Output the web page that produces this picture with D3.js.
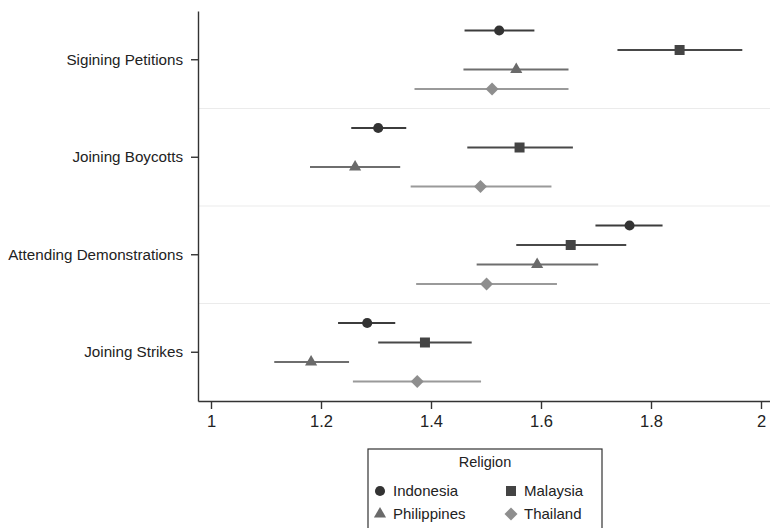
<!DOCTYPE html>
<html>
<head>
<meta charset="utf-8">
<script src="https://cdn.jsdelivr.net/npm/d3@7"></script>
<style>
  body { margin: 0; background: #fff; }
  text { font-family: "Liberation Sans", Arial, Helvetica, sans-serif; fill: #222; }
</style>
</head>
<body>
<div id="chart"></div>
<script>
// data
const categories = ["Sigining Petitions", "Joining Boycotts", "Attending Demonstrations", "Joining Strikes"];
const countries = ["Indonesia", "Malaysia", "Philippines", "Thailand"];
const xTicks = [1, 1.2, 1.4, 1.6, 1.8, 2];

// point estimates and interval ends, one value per category
const indonesiaMean = [1.524, 1.304, 1.761, 1.284];
const indonesiaLow  = [1.461, 1.255, 1.699, 1.231];
const indonesiaHigh = [1.588, 1.355, 1.821, 1.335];

const malaysiaMean = [1.852, 1.561, 1.654, 1.389];
const malaysiaLow  = [1.739, 1.466, 1.555, 1.304];
const malaysiaHigh = [1.966, 1.658, 1.755, 1.474];

const philippinesMean = [1.555, 1.262, 1.593, 1.182];
const philippinesLow  = [1.459, 1.180, 1.483, 1.115];
const philippinesHigh = [1.650, 1.344, 1.704, 1.251];

const thailandMean = [1.511, 1.490, 1.501, 1.375];
const thailandLow  = [1.370, 1.363, 1.373, 1.258];
const thailandHigh = [1.650, 1.619, 1.629, 1.491];

const series = [
  {name: "Indonesia",   mean: indonesiaMean,   low: indonesiaLow,   high: indonesiaHigh},
  {name: "Malaysia",    mean: malaysiaMean,    low: malaysiaLow,    high: malaysiaHigh},
  {name: "Philippines", mean: philippinesMean, low: philippinesLow, high: philippinesHigh},
  {name: "Thailand",    mean: thailandMean,    low: thailandLow,    high: thailandHigh}
];

/* look of each country */
const markerFill = {Indonesia: "#333", Malaysia: "#444", Philippines: "#6a6a6a", Thailand: "#8e8e8e"};
const lineColor = {Indonesia: "#3c3c3c", Malaysia: "#484848", Philippines: "#6e6e6e", Thailand: "#9a9a9a"};
const markerType = {
  Indonesia: d3.symbol(d3.symbolCircle, 80),
  Malaysia: d3.symbol(d3.symbolSquare, 100),
  Philippines: d3.symbol(d3.symbolTriangle, 64),
  Thailand: d3.symbol(d3.symbolSquare, 84)
};
const markerRotate = {Indonesia: 0, Malaysia: 0, Philippines: 0, Thailand: 45};

// dimensions
const W = 770, H = 528;
const margin = {top: 11, right: 0, bottom: 127, left: 198};
const width = W - margin.left - margin.right;
const height = H - margin.top - margin.bottom;

const svg = d3.select("#chart").append("svg")
  .attr("width", W)
  .attr("height", H);

const g = svg.append("g")
  .attr("transform", `translate(${margin.left},${margin.top})`);

/* x scale: 1 sits a bit right of the axis corner */
const xScale = d3.scaleLinear()
  .domain([1 - 13 / 550, 2 + 9 / 550])
  .range([0, width]);

/* one band per activity */
const yScale = d3.scaleBand()
  .domain(categories)
  .range([0, height])
  .padding(0);

/* row of a country inside its band */
const rowScale = d3.scalePoint()
  .domain(countries)
  .range([yScale.bandwidth() / 5, yScale.bandwidth() * 4 / 5]);

// light separators between the bands
g.selectAll(".sep")
  .data(categories.slice(1))
  .join("line")
    .attr("class", "sep")
    .attr("x1", 0)
    .attr("x2", width)
    .attr("y1", d => yScale(d))
    .attr("y2", d => yScale(d))
    .attr("stroke", "#ebebeb")
    .attr("stroke-width", 1.2);

// error bars and markers
const rows = [];
series.forEach(s => {
  categories.forEach((c, i) => {
    rows.push({name: s.name, cat: c, mean: s.mean[i], low: s.low[i], high: s.high[i]});
  });
});

g.selectAll(".ci")
  .data(rows)
  .join("line")
    .attr("class", "ci")
    .attr("x1", d => xScale(d.low))
    .attr("x2", d => xScale(d.high))
    .attr("y1", d => yScale(d.cat) + rowScale(d.name))
    .attr("y2", d => yScale(d.cat) + rowScale(d.name))
    .attr("stroke", d => lineColor[d.name])
    .attr("stroke-width", 2);

g.selectAll(".pt")
  .data(rows)
  .join("path")
    .attr("class", "pt")
    .attr("d", d => markerType[d.name]())
    .attr("transform", d => `translate(${xScale(d.mean)},${yScale(d.cat) + rowScale(d.name)}) rotate(${markerRotate[d.name]})`)
    .attr("fill", d => markerFill[d.name]);

/* axes */
const xAxis = g.append("g")
  .attr("transform", `translate(0,${height})`)
  .call(d3.axisBottom(xScale).tickValues(xTicks).tickFormat(d3.format("")).tickSize(8).tickSizeOuter(0).tickPadding(6));

const yAxis = g.append("g")
  .call(d3.axisLeft(yScale).tickSize(7).tickSizeOuter(0).tickPadding(8));

[xAxis, yAxis].forEach(a => {
  a.select(".domain").attr("stroke", "#333").attr("stroke-width", 1.4);
  a.selectAll(".tick line").attr("stroke", "#333").attr("stroke-width", 1.4);
  a.selectAll("text").attr("fill", "#222").style("font-family", "'Liberation Sans', Arial, sans-serif");
});
xAxis.selectAll("text").style("font-size", "16.5px");
yAxis.selectAll("text").style("font-size", "15.2px");

// legend
const legend = svg.append("g").attr("transform", "translate(368,449)");
legend.append("rect")
  .attr("width", 234)
  .attr("height", 100)
  .attr("fill", "#fff")
  .attr("stroke", "#333")
  .attr("stroke-width", 1.2);

legend.append("text")
  .attr("x", 117)
  .attr("y", 18)
  .attr("text-anchor", "middle")
  .style("font-size", "14.5px")
  .text("Religion");

const items = legend.selectAll(".item")
  .data(countries)
  .join("g")
    .attr("class", "item")
    .attr("transform", (d, i) => `translate(${i % 2 ? 143 : 12},${i < 2 ? 42 : 65})`);

items.append("path")
  .attr("d", d => markerType[d]())
  .attr("transform", d => `rotate(${markerRotate[d]})`)
  .attr("fill", d => markerFill[d]);

items.append("text")
  .attr("x", 13)
  .attr("dy", "0.35em")
  .style("font-size", "15px")
  .text(d => d);
</script>
</body>
</html>
